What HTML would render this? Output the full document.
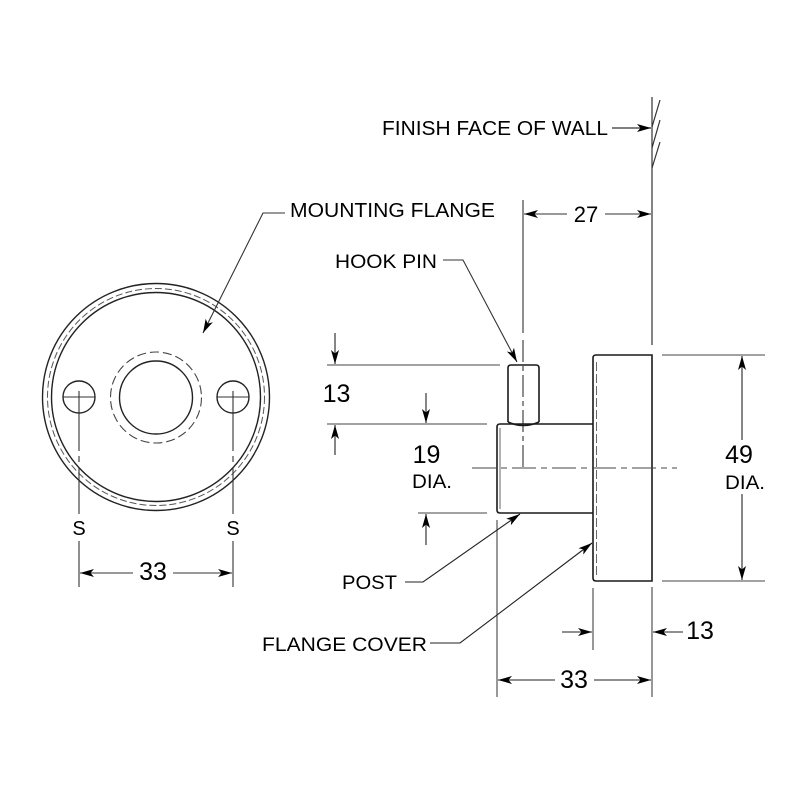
<!DOCTYPE html>
<html><head><meta charset="utf-8"><style>
html,body{margin:0;padding:0;background:#fff;}
svg{display:block;}
text{font-family:"Liberation Sans",Arial,sans-serif;fill:#000;}
</style></head><body>
<svg width="800" height="800" viewBox="0 0 800 800" xmlns="http://www.w3.org/2000/svg">
<defs>
<marker id="a" viewBox="0 0 14 9" refX="14" refY="4.5" markerWidth="14" markerHeight="9" markerUnits="userSpaceOnUse" orient="auto">
<path d="M0,0.5 L14,4.5 L0,8.5 L3.5,4.5 z" fill="#000"/>
</marker>
</defs>
<rect width="800" height="800" fill="#fff"/>

<!-- LEFT VIEW -->
<g fill="none" stroke="#222" stroke-width="1.4">
<circle cx="156" cy="397" r="113.5"/>
<circle cx="156" cy="397" r="104.5"/>
<circle cx="156" cy="397" r="108.5" stroke="#555" stroke-width="1" stroke-dasharray="7,3"/>
<circle cx="156" cy="397.5" r="36.5"/>
<circle cx="156" cy="397.5" r="45.5" stroke="#444" stroke-width="1.1" stroke-dasharray="9,4"/>
<circle cx="79" cy="397" r="16"/>
<circle cx="233" cy="397" r="16"/>
</g>
<g stroke="#333" stroke-width="1.1" fill="none">
<line x1="63" y1="397" x2="95" y2="397"/>
<line x1="217" y1="397" x2="249" y2="397"/>
<line x1="79" y1="391" x2="79" y2="514" stroke-dasharray="60,5,6,5"/>
<line x1="233" y1="391" x2="233" y2="514" stroke-dasharray="60,5,6,5"/>
<line x1="79" y1="541" x2="79" y2="587"/>
<line x1="233" y1="541" x2="233" y2="587"/>
<line x1="133" y1="573" x2="80" y2="573" marker-end="url(#a)"/>
<line x1="173" y1="573" x2="232" y2="573" marker-end="url(#a)"/>
<polyline points="285,213 263,213 203,333" marker-end="url(#a)"/>
</g>
<text x="79" y="535" font-size="20" text-anchor="middle">S</text>
<text x="233" y="535" font-size="20" text-anchor="middle">S</text>
<text x="153" y="580" font-size="25" text-anchor="middle">33</text>
<text x="290" y="217" font-size="20" textLength="205" lengthAdjust="spacingAndGlyphs">MOUNTING FLANGE</text>

<!-- RIGHT VIEW: wall -->
<g stroke="#333" stroke-width="1.2" fill="none">
<line x1="652" y1="97" x2="652" y2="345"/>
<line x1="652" y1="127" x2="660" y2="100"/>
<line x1="652" y1="148" x2="660" y2="120"/>
<line x1="652" y1="168" x2="660" y2="142"/>
<line x1="612" y1="128" x2="651" y2="128" marker-end="url(#a)"/>
</g>
<text x="382" y="135" font-size="20" textLength="226" lengthAdjust="spacingAndGlyphs">FINISH FACE OF WALL</text>

<!-- 27 dim -->
<g stroke="#333" stroke-width="1.1" fill="none">
<line x1="523" y1="200" x2="523" y2="333"/>
<line x1="523" y1="340" x2="523" y2="468" stroke-dasharray="22,4,5,4"/>
<line x1="567" y1="214" x2="524" y2="214" marker-end="url(#a)"/>
<line x1="605" y1="214" x2="651" y2="214" marker-end="url(#a)"/>
</g>
<text x="586" y="222" font-size="22" text-anchor="middle">27</text>

<!-- Hook pin leader -->
<g stroke="#333" stroke-width="1.1" fill="none">
<polyline points="443,260 463,260 517,362" marker-end="url(#a)"/>
</g>
<text x="335" y="268" font-size="19" textLength="102" lengthAdjust="spacingAndGlyphs">HOOK PIN</text>

<!-- Object -->
<g fill="none" stroke="#1a1a1a" stroke-width="1.6">
<path d="M508,422 L508,368 Q508,365 511,365 L536,365 Q539,365 539,368 L539,422"/>
<path d="M508,422 Q523,429 539,422"/>
<path d="M593,424 L500,424 Q497,424 497,427 L497,510 Q497,513 500,513 L593,513"/>
<path d="M652,355 L596,355 Q593,355 593,358 L593,578 Q593,581 596,581 L652,581 Z"/>
</g>
<line x1="500" y1="428" x2="500" y2="509" stroke="#555" stroke-width="0.9"/>
<line x1="596.5" y1="362" x2="596.5" y2="575" stroke="#666" stroke-width="1" stroke-dasharray="9,3"/>
<line x1="472" y1="468" x2="677" y2="468" stroke="#444" stroke-width="1.1" stroke-dasharray="24,5,6,5"/>

<!-- extension lines & dims -->
<g stroke="#444" stroke-width="1.1" fill="none">
<line x1="327" y1="365" x2="500" y2="365"/>
<line x1="327" y1="424" x2="487" y2="424"/>
<line x1="418" y1="513" x2="487" y2="513"/>
<line x1="662" y1="355" x2="765" y2="355"/>
<line x1="662" y1="581" x2="765" y2="581"/>
<line x1="497" y1="520" x2="497" y2="697"/>
<line x1="593" y1="588" x2="593" y2="650"/>
<line x1="652" y1="587" x2="652" y2="697"/>
</g>
<g stroke="#222" stroke-width="1.1" fill="none">
<line x1="335" y1="333" x2="335" y2="364" marker-end="url(#a)"/>
<line x1="335" y1="455" x2="335" y2="425" marker-end="url(#a)"/>
<line x1="426" y1="393" x2="426" y2="423" marker-end="url(#a)"/>
<line x1="426" y1="545" x2="426" y2="514" marker-end="url(#a)"/>
<line x1="742" y1="440" x2="742" y2="356" marker-end="url(#a)"/>
<line x1="742" y1="494" x2="742" y2="580" marker-end="url(#a)"/>
<line x1="562" y1="632" x2="592" y2="632" marker-end="url(#a)"/>
<line x1="683" y1="632" x2="653" y2="632" marker-end="url(#a)"/>
<line x1="555" y1="680" x2="498" y2="680" marker-end="url(#a)"/>
<line x1="594" y1="680" x2="651" y2="680" marker-end="url(#a)"/>
<polyline points="405,582 423,582 520,514" marker-end="url(#a)"/>
<polyline points="430,643 460,643 592,543" marker-end="url(#a)"/>
</g>
<text x="336.5" y="402" font-size="25" text-anchor="middle">13</text>
<text x="426.5" y="463" font-size="25" text-anchor="middle">19</text>
<text x="412" y="488" font-size="19" textLength="40" lengthAdjust="spacingAndGlyphs">DIA.</text>
<text x="739" y="463" font-size="25" text-anchor="middle">49</text>
<text x="725" y="489" font-size="19" textLength="40" lengthAdjust="spacingAndGlyphs">DIA.</text>
<text x="700" y="639" font-size="25" text-anchor="middle">13</text>
<text x="574" y="688" font-size="25" text-anchor="middle">33</text>
<text x="342" y="589" font-size="19" textLength="55" lengthAdjust="spacingAndGlyphs">POST</text>
<text x="262" y="651" font-size="19" textLength="165" lengthAdjust="spacingAndGlyphs">FLANGE COVER</text>
</svg>
</body></html>
